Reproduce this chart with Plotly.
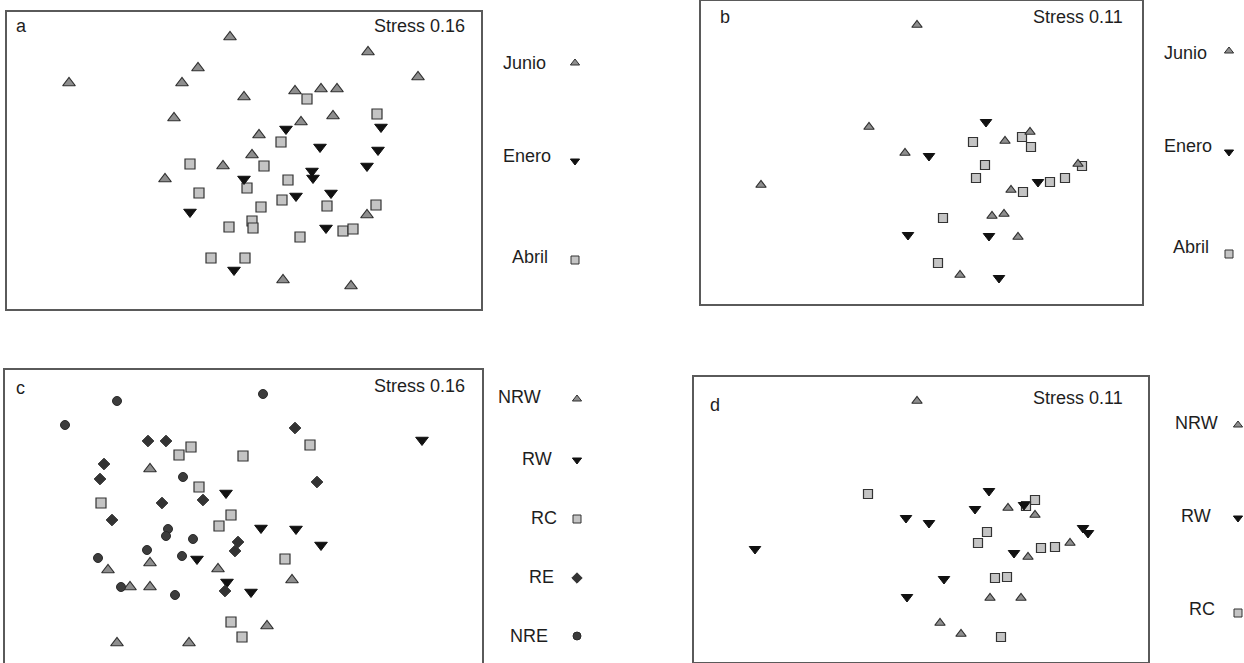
import plotly.graph_objects as go

W, H = 1244, 663

# ---------------- Panel a (Junio / Enero / Abril) ----------------
a_junio_x = [230, 368, 198, 69, 182, 418, 244, 295, 321, 337, 174, 333, 301, 259, 252, 223, 165, 367, 283, 351]
a_junio_y = [37, 52, 68, 83, 83, 77, 97, 91, 89, 89, 118, 116, 122, 135, 155, 166, 179, 215, 280, 286]
a_enero_x = [286, 381, 320, 378, 367, 244, 312, 313, 296, 331, 190, 326, 234]
a_enero_y = [129, 127, 147, 150, 166, 179, 171, 178, 196, 193, 212, 228, 270]
a_abril_x = [307, 377, 281, 190, 264, 247, 288, 199, 282, 261, 327, 376, 252, 229, 253, 300, 343, 353, 211, 245]
a_abril_y = [99, 114, 142, 164, 166, 188, 180, 193, 200, 207, 206, 205, 221, 227, 228, 237, 231, 229, 258, 258]

# ---------------- Panel b (Junio / Enero / Abril) ----------------
b_junio_x = [917, 869, 905, 761, 1005, 1030, 1078, 1011, 992, 1004, 1018, 960]
b_junio_y = [25, 127, 153, 185, 141, 132, 164, 190, 216, 214, 237, 275]
b_enero_x = [986, 929, 1038, 908, 989, 999]
b_enero_y = [122, 156, 182, 235, 236, 278]
b_abril_x = [973, 1022, 1031, 985, 976, 1023, 1050, 1065, 1082, 943, 938]
b_abril_y = [142, 137, 147, 165, 178, 192, 182, 178, 166, 218, 263]

# ---------------- Panel c (NRW / RW / RC / RE / NRE) ----------------
c_nrw_x = [150, 150, 108, 218, 130, 150, 292, 267, 117, 189]
c_nrw_y = [469, 563, 570, 569, 587, 587, 580, 626, 643, 643]
c_rw_x = [422, 226, 261, 296, 321, 197, 227, 251]
c_rw_y = [440, 493, 528, 529, 545, 559, 582, 592]
c_rc_x = [191, 179, 243, 310, 199, 101, 231, 219, 285, 231, 242]
c_rc_y = [447, 455, 456, 445, 487, 503, 515, 526, 559, 622, 637]
c_re_x = [295, 148, 166, 104, 100, 317, 203, 162, 112, 238, 235, 225]
c_re_y = [428, 441, 441, 464, 479, 482, 500, 503, 520, 542, 551, 591]
c_nre_x = [117, 263, 65, 183, 168, 166, 193, 147, 98, 182, 121, 175]
c_nre_y = [401, 394, 425, 477, 529, 536, 539, 550, 558, 556, 587, 595]

# ---------------- Panel d (NRW / RW / RC) ----------------
d_nrw_x = [917, 1008, 1035, 1070, 1028, 990, 1021, 940, 961]
d_nrw_y = [401, 508, 515, 543, 557, 598, 598, 623, 634]
d_rw_x = [989, 975, 906, 929, 1024, 755, 1083, 1088, 1014, 944, 907]
d_rw_y = [491, 509, 518, 523, 505, 549, 528, 533, 553, 579, 597]
d_rc_x = [868, 1035, 1026, 987, 978, 1041, 1055, 995, 1007, 1001]
d_rc_y = [494, 500, 506, 532, 543, 548, 547, 578, 577, 637]

panel_letters = ["a", "b", "c", "d"]
stress_labels = ["Stress 0.16", "Stress 0.11", "Stress 0.16", "Stress 0.11"]
legend_ab = ["Junio", "Enero", "Abril"]
legend_c = ["NRW", "RW", "RC", "RE", "NRE"]
legend_d = ["NRW", "RW", "RC"]

FONT = "Liberation Sans, Arial, sans-serif"
TXT = "#1e1e1e"
BOX = "#5a5a5a"

STY = {
    "up":   dict(symbol="triangle-up", color="#8e8e8e", line=dict(color="#303030", width=1.2)),
    "down": dict(symbol="triangle-down", color="#111111", line=dict(color="#111111", width=1)),
    "sq":   dict(symbol="square", color="#c4c4c4", line=dict(color="#333333", width=1.2)),
    "dia":  dict(symbol="diamond", color="#333333", line=dict(color="#333333", width=1)),
    "circ": dict(symbol="circle", color="#3c3c3c", line=dict(color="#2a2a2a", width=1)),
}

# panel boxes in page pixels: left, right, top, bottom
boxes = {
    "a": (7, 481, 12, 309),
    "b": (701, 1142, 1, 304),
    "c": (5, 482, 370, 663),
    "d": (694, 1148, 377, 662),
}

fig = go.Figure()
layout = dict(width=W, height=H, margin=dict(l=0, r=0, t=0, b=0, pad=0),
              paper_bgcolor="white", plot_bgcolor="rgba(0,0,0,0)", showlegend=False,
              font=dict(family=FONT, color=TXT))

for i, key in enumerate(["a", "b", "c", "d"]):
    l, r, t, b = boxes[key]
    n = i + 1
    sfx = "" if n == 1 else str(n)
    xa = dict(domain=[l / W, r / W], range=[l, r], showgrid=False, zeroline=False,
              showticklabels=False, ticks="", showline=True, linecolor=BOX, linewidth=2,
              mirror=True, fixedrange=True, anchor="y" + sfx)
    ya = dict(domain=[max(0, 1 - b / H), 1 - t / H], range=[b, t], showgrid=False, zeroline=False,
              showticklabels=False, ticks="", showline=True, linecolor=BOX, linewidth=2,
              mirror=True, fixedrange=True, anchor="x" + sfx)
    if key == "c":
        xa["mirror"] = False
        xa["side"] = "top"
    layout["xaxis" + sfx] = xa
    layout["yaxis" + sfx] = ya

# overlay axis for labels and the side legends
layout["xaxis5"] = dict(domain=[0, 1], range=[0, W], visible=False, fixedrange=True, anchor="y5")
layout["yaxis5"] = dict(domain=[0, 1], range=[H, 0], visible=False, fixedrange=True, anchor="x5")
fig.update_layout(**layout)


def add(xs, ys, sty, size, ax):
    s = STY[sty]
    fig.add_trace(go.Scatter(x=xs, y=ys, mode="markers", xaxis="x" + ax, yaxis="y" + ax,
                             cliponaxis=False,
                             marker=dict(symbol=s["symbol"], color=s["color"], size=size,
                                         line=s["line"]), hoverinfo="skip"))


# panel a
add(a_abril_x, a_abril_y, "sq", 10, "")
add(a_junio_x, a_junio_y, "up", 11, "")
add(a_enero_x, a_enero_y, "down", 11, "")
# panel b
add(b_abril_x, b_abril_y, "sq", 9, "2")
add(b_junio_x, b_junio_y, "up", 9, "2")
add(b_enero_x, b_enero_y, "down", 10, "2")
# panel c
add(c_rc_x, c_rc_y, "sq", 10, "3")
add(c_nrw_x, c_nrw_y, "up", 11, "3")
add(c_rw_x, c_rw_y, "down", 11, "3")
add(c_re_x, c_re_y, "dia", 9, "3")
add(c_nre_x, c_nre_y, "circ", 9, "3")
# panel d
add(d_rc_x, d_rc_y, "sq", 9, "4")
add(d_nrw_x, d_nrw_y, "up", 9, "4")
add(d_rw_x, d_rw_y, "down", 10, "4")

ann = []
FS = 18
letter_pos = [(14, 26), (718, 17), (14, 388), (708, 405)]
stress_pos = [(467, 26), (1125, 17), (467, 386), (1125, 398)]
for lt, (x, y) in zip(panel_letters, letter_pos):
    ann.append(dict(x=x, y=y, xref="x5", yref="y5", text=lt, showarrow=False,
                    xanchor="left", yanchor="middle", font=dict(size=FS, family=FONT, color=TXT)))
for st, (x, y) in zip(stress_labels, stress_pos):
    ann.append(dict(x=x, y=y, xref="x5", yref="y5", text=st, showarrow=False,
                    xanchor="right", yanchor="middle", font=dict(size=FS, family=FONT, color=TXT)))

legends = [
    (legend_ab, ["up", "down", "sq"], [548, 553, 550], [63, 156, 257], 575, [63, 161, 260]),
    (legend_ab, ["up", "down", "sq"], [1209, 1214, 1211], [53, 146, 247], 1229, [51, 152, 254]),
    (legend_c, ["up", "down", "sq", "dia", "circ"], [543, 554, 559, 556, 550],
     [397, 459, 518, 577, 636], 577, [399, 460, 519, 578, 636]),
    (legend_d, ["up", "down", "sq"], [1220, 1213, 1217], [423, 516, 609], 1238, [425, 518, 613]),
]
for labels, syms, tx, ty, mx, my in legends:
    for lab, sym, x, y, yy in zip(labels, syms, tx, ty, my):
        ann.append(dict(x=x, y=y, xref="x5", yref="y5", text=lab, showarrow=False,
                        xanchor="right", yanchor="middle", font=dict(size=FS, family=FONT, color=TXT)))
        s = STY[sym]
        fig.add_trace(go.Scatter(x=[mx], y=[yy], mode="markers", xaxis="x5", yaxis="y5",
                                 cliponaxis=False,
                                 marker=dict(symbol=s["symbol"], color=s["color"], size=8,
                                             line=dict(color=s["line"]["color"], width=1)),
                                 hoverinfo="skip"))

fig.update_layout(annotations=ann)
fig.write_html("out.html", config={"displayModeBar": False},
               post_script="document.body.style.margin='0';document.body.style.overflow='hidden';")
